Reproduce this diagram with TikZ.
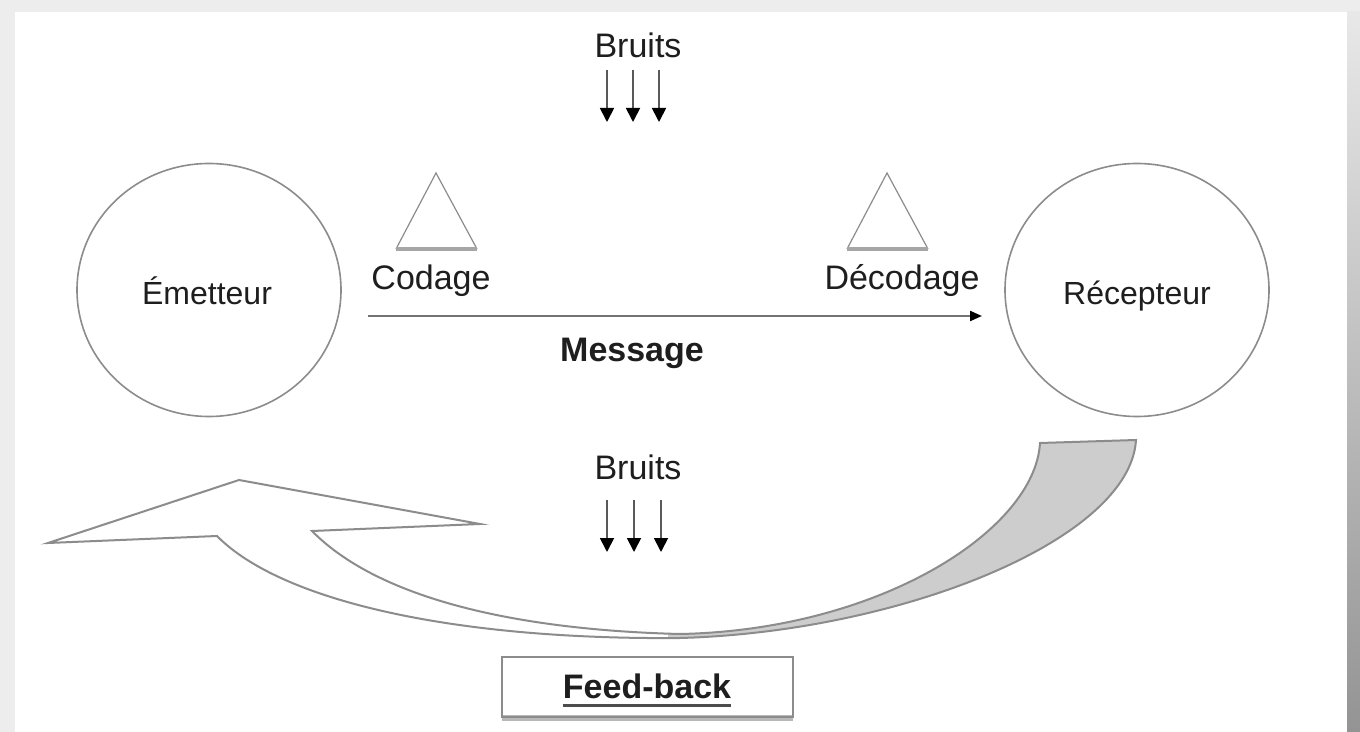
\documentclass[tikz,border=0pt]{standalone}
\usepackage{fontspec}
\setmainfont{Liberation Sans}
\usetikzlibrary{arrows.meta,shapes.geometric}

\definecolor{edge}{HTML}{8C8C8C}
\definecolor{ink}{HTML}{1E1E1E}
\definecolor{bandgrey}{HTML}{CDCDCD}

% outline of the twisted feed-back arrow
\newcommand{\feedbackband}{(48,543) -- (239,480) -- (480,524) -- (312,531)
  .. controls (380,600) and (520,630) .. (680,634)
  .. controls (880,630) and (1035,530) .. (1040,443)
  -- (1136,440)
  .. controls (1130,540) and (900,632) .. (680,638)
  .. controls (450,640) and (280,600) .. (217,536) -- cycle}

\begin{document}
\begin{tikzpicture}[x=0.5pt,y=-0.5pt,
  lbl/.style={font=\fontsize{17pt}{20pt}\selectfont, text=ink, inner sep=0pt, anchor=base},
  boldlbl/.style={lbl, font=\fontsize{17pt}{20pt}\selectfont\bfseries},
  circlbl/.style={lbl, font=\fontsize{16pt}{19pt}\selectfont},
  actor/.style={ellipse, draw=edge, line width=0.8pt, minimum width=132pt, minimum height=126.5pt, inner sep=0pt},
  noise/.style={draw=black!65, line width=0.9pt, -{Triangle[length=7pt,width=7pt,color=black]}},
  msgarrow/.style={draw=black!55, line width=1.1pt, -{Triangle[length=6pt,width=5pt,color=black]}},
  triside/.style={draw=edge, line width=0.6pt},
  tribase/.style={draw=black!35, line width=1.6pt},
  bandline/.style={draw=edge, line width=1pt, line join=miter}]

\useasboundingbox (0,0) rectangle (1360,732);

% page backdrop with a soft drop shadow on the right
\fill[black!7] (0,0) rectangle (1360,732);
\shade[top color=black!9, bottom color=black!42] (1347,12) rectangle (1360,732);
\fill[white] (15,12) rectangle (1347,732);

% the two actors
\node[actor] (emetteur) at (209,290) {};
\node[actor] (recepteur) at (1137,290) {};
\node[circlbl] (emetteurtxt) at (207,305) {Émetteur};
\node[circlbl] (recepteurtxt) at (1137,305) {Récepteur};

% coding and decoding markers
\coordinate (codtop) at (436,173);
\coordinate (codl) at (396,249);
\coordinate (codr) at (477,249);
\draw[triside] (codl) -- (codtop) -- (codr);
\draw[tribase] (codl) -- (codr);
\node[lbl] (codage) at (431,290) {Codage};

\coordinate (dectop) at (887,173);
\coordinate (decl) at (847,249);
\coordinate (decr) at (928,249);
\draw[triside] (decl) -- (dectop) -- (decr);
\draw[tribase] (decl) -- (decr);
\node[lbl] (decodage) at (902,290) {Décodage};

% message
\coordinate (msgstart) at (368,316);
\coordinate (msgend) at (982,316);
\draw[msgarrow] (msgstart) -- (msgend);
\node[boldlbl] (message) at (632,362) {Message};

% noise above the message
\node[lbl] (bruitshaut) at (638,58) {Bruits};
\foreach \i/\xx in {1/607,2/633,3/659}{
  \coordinate (nh\i a) at (\xx,70);
  \coordinate (nh\i b) at (\xx,122);
  \draw[noise] (nh\i a) -- (nh\i b);
}

% noise on the return path
\node[lbl] (bruitsbas) at (638,480) {Bruits};
\foreach \i/\xx in {1/607,2/634,3/661}{
  \coordinate (nb\i a) at (\xx,500);
  \coordinate (nb\i b) at (\xx,552);
  \draw[noise] (nb\i a) -- (nb\i b);
}

% feed-back arrow: white front, grey back side of the twisted band
\fill[white] \feedbackband;
\begin{scope}
  \clip (668,400) rectangle (1200,660);
  \fill[bandgrey] \feedbackband;
\end{scope}
\draw[bandline] \feedbackband;

% feed-back label box
\fill[black!28] (502,715) rectangle (793,721);
\node[draw=black!45, line width=0.8pt, minimum width=145.5pt, minimum height=30pt, inner sep=0pt] (fbbox) at (647.5,687) {};
\node[boldlbl] (fbtext) at (647,698) {Feed-back};
\draw[black!70, line width=1.6pt] ([yshift=-3.8pt]fbtext.base west) -- ([yshift=-3.8pt]fbtext.base east);

\end{tikzpicture}
\end{document}
